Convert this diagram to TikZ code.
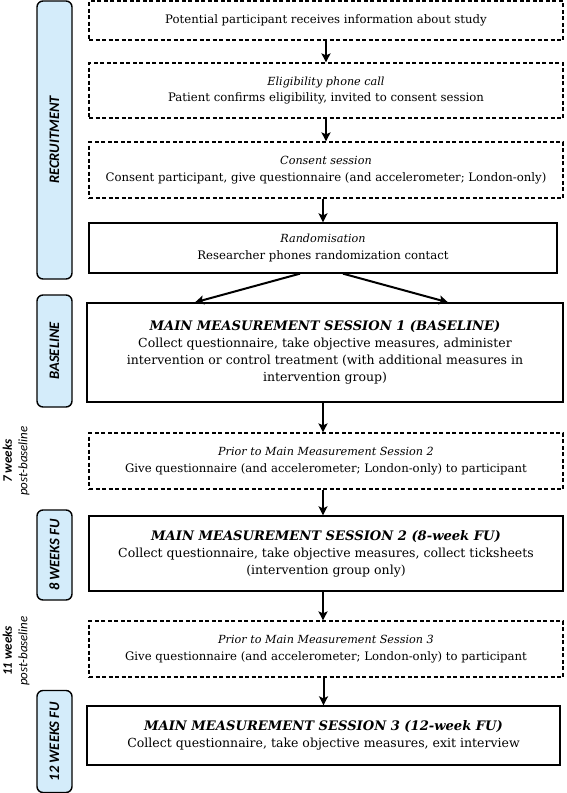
\documentclass[tikz,border=0pt]{standalone}
\usepackage{fontspec}
\setmainfont{DejaVu Serif}
\newfontfamily\sidefont{Carlito}
\usetikzlibrary{arrows.meta}
\definecolor{sidefill}{RGB}{212,236,250}
\newcommand{\bodysize}{\fontsize{11.7}{16.5}\selectfont}
\newcommand{\mainsize}{\fontsize{12.5}{17}\selectfont}
\newcommand{\hd}[1]{{\fontsize{11.2}{16.5}\selectfont\itshape #1}}
\newcommand{\ttlsize}{\fontsize{13.1}{17}\selectfont\bfseries\itshape}
\begin{document}
\begin{tikzpicture}[x=1pt,y=-1pt,
  box/.style={draw, line width=1.3pt, align=center, inner sep=0pt, font=\bodysize},
  mbox/.style={box, font=\mainsize},
  dbox/.style={box, line width=1.2pt, dash pattern=on 4pt off 2.5pt},
  sidebar/.style={draw, line width=1.4pt, fill=sidefill, rounded corners=6pt, minimum width=35pt, inner sep=0pt},
  sidelabel/.style={rotate=90, font=\sidefont\fontsize{14.5}{15}\selectfont\bfseries\itshape},
  note/.style={rotate=90, align=center, font=\sidefont\fontsize{13}{15.5}\selectfont\itshape},
  arr/.style={line width=2pt, -{Stealth[length=9pt,width=9pt,inset=2pt]}}
]
\useasboundingbox (0,0) rectangle (567,793);
% side bars
\node[sidebar, minimum height=278pt] (s1) at (54.5,140) {};
\node[sidelabel] (l1) at (s1) {RECRUITMENT};
\node[sidebar, minimum height=112pt] (s2) at (54.5,351) {};
\node[sidelabel] (l2) at (s2) {BASELINE};
\node[sidebar, minimum height=90pt] (s3) at (54.5,555) {};
\node[sidelabel] (l3) at (s3) {8 WEEKS FU};
\node[sidebar, minimum height=102pt] (s4) at (54.5,741.5) {};
\node[sidelabel] (l4) at (s4) {12 WEEKS FU};
% notes
\node[note] (n1) at (16,461) {\textbf{7 weeks}\\post-baseline};
\node[note] (n2) at (16,651) {\textbf{11 weeks}\\post-baseline};
% boxes
\node[dbox, minimum width=474pt, minimum height=39pt] (b1) at (326,20.5) {Potential participant receives information about study};
\node[dbox, minimum width=474pt, minimum height=55pt] (b2) at (326,90.5) {\hd{Eligibility phone call}\\Patient confirms eligibility, invited to consent session};
\node[dbox, minimum width=474pt, minimum height=56pt] (b3) at (326,170) {\hd{Consent session}\\Consent participant, give questionnaire (and accelerometer; London-only)};
\node[box, minimum width=468pt, minimum height=50pt] (b4) at (323,248) {\hd{Randomisation}\\Researcher phones randomization contact};
\node[mbox, minimum width=476pt, minimum height=99pt] (b5) at (325,352.5) {{\ttlsize MAIN MEASUREMENT SESSION 1 (BASELINE)}\\Collect questionnaire, take objective measures, administer\\intervention or control treatment (with additional measures in\\intervention group)};
\node[dbox, minimum width=474pt, minimum height=56pt] (b6) at (326,461) {\hd{Prior to Main Measurement Session 2}\\Give questionnaire (and accelerometer; London-only) to participant};
\node[mbox, minimum width=474pt, minimum height=75pt] (b7) at (326,553.5) {{\ttlsize MAIN MEASUREMENT SESSION 2 (8-week FU)}\\Collect questionnaire, take objective measures, collect ticksheets\\(intervention group only)};
\node[dbox, minimum width=474pt, minimum height=56pt] (b8) at (326,649) {\hd{Prior to Main Measurement Session 3}\\Give questionnaire (and accelerometer; London-only) to participant};
\node[mbox, minimum width=473pt, minimum height=59pt] (b9) at (323.5,735.5) {{\ttlsize MAIN MEASUREMENT SESSION 3 (12-week FU)}\\Collect questionnaire, take objective measures, exit interview};
% arrows
\draw[arr] (b1.south) -- (b2.north);
\draw[arr] (b2.south) -- (b3.north);
\draw[arr] (b3.south -| b4.north) -- (b4.north);
\draw[arr] ([xshift=-23pt]b4.south) -- ([xshift=-130pt]b5.north);
\draw[arr] ([xshift=20pt]b4.south) -- ([xshift=123pt]b5.north);
\draw[arr] ([xshift=-2pt]b5.south) -- ([xshift=-2pt]b5.south |- b6.north);
\draw[arr] ([xshift=-3pt]b6.south) -- ([xshift=-3pt]b6.south |- b7.north);
\draw[arr] ([xshift=-3pt]b7.south) -- ([xshift=-3pt]b7.south |- b8.north);
\draw[arr] (b8.south -| b9.north) -- (b9.north);
\end{tikzpicture}
\end{document}
